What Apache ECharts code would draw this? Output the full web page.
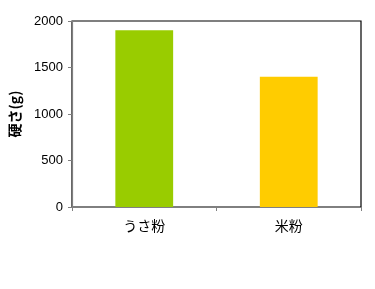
<!DOCTYPE html>
<html><head><meta charset="utf-8">
<script src="https://cdn.jsdelivr.net/npm/echarts@6/dist/echarts.min.js"></script>
<style>html,body{margin:0;padding:0;background:#fff}#c{width:375px;height:289px}</style>
</head><body><div id="c"></div>
<script>
const categories = ['うさ粉', '米粉'];
const values = [1900, 1400];
const barColors = ['#99CC00', '#FFCC00'];
const yTicks = [0, 500, 1000, 1500, 2000];

const chart = echarts.init(document.getElementById('c'), null, {renderer: 'canvas'});
const font = '"Noto Sans CJK JP", sans-serif';
chart.setOption({
  animation: false,
  grid: {left: 69, top: 21, width: 292, height: 186, show: true, borderColor: '#000', borderWidth: 1.2, backgroundColor: '#fff'},
  xAxis: {
    type: 'category', data: categories,
    axisLine: {lineStyle: {color: '#808080', width: 1.2}},
    axisTick: {show: true, length: 4, alignWithLabel: false, lineStyle: {color: '#808080'}},
    axisLabel: {color: '#000', fontSize: 14, fontFamily: font, margin: 12}
  },
  yAxis: {
    type: 'value', min: yTicks[0], max: yTicks[yTicks.length - 1], interval: 500,
    name: '硬さ(g)', nameLocation: 'middle', nameGap: 50, nameRotate: 90,
    nameTextStyle: {color: '#000', fontSize: 14, fontWeight: 'bold', fontFamily: font},
    axisLine: {show: true, lineStyle: {color: '#808080', width: 1.2}},
    axisTick: {show: true, length: 4, lineStyle: {color: '#808080'}},
    splitLine: {show: false},
    axisLabel: {color: '#000', fontSize: 13, fontFamily: 'Arial, "Liberation Sans", sans-serif', margin: 9, formatter: v => String(v)}
  },
  series: [{
    type: 'bar', barWidth: '40%',
    data: values.map((v, i) => ({value: v, itemStyle: {color: barColors[i]}}))
  }]
});
</script></body></html>
